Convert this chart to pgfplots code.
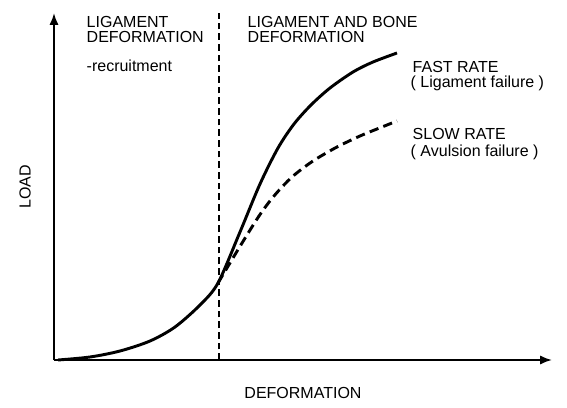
\documentclass[border=0pt]{standalone}
\usepackage{pgfplots}
\pgfplotsset{compat=1.18}
\usetikzlibrary{arrows.meta}
\usepackage{fontspec}
\setmainfont{Liberation Sans}
\begin{document}
\begin{tikzpicture}
  \begin{axis}[
    x=0.75pt, y=0.75pt,
    xmin=0, xmax=498, ymin=0, ymax=347,
    axis lines=left,
    axis line style={line width=1.5pt, -{Latex[length=9pt,width=7pt]}},
    ticks=none,
    clip=false,
    font=\fontsize{12}{14}\selectfont ]
  % solid: fast rate
  \addplot[black, line width=2.2pt, smooth] coordinates {
    (4,0) (36,3) (66,9) (96,19) (121,33) (146,55) (164,77) (186,128)
    (206,176) (224,212) (240,236) (257,255) (276,272) (299,288)
    (319,298) (343,307)};
  % dashed: slow rate
  \addplot[black, line width=2.2pt, smooth, dash pattern=on 7pt off 4pt] coordinates {
    (164,77) (185,112) (205,144) (220,164) (238,183) (259,199) (283,213)
    (306,224) (323,231) (343,239)};
  % boundary between regions
  \addplot[black, line width=1pt, dash pattern=on 5pt off 3pt] coordinates {(165,0) (165,347)};
  \path (axis cs:-54,360) rectangle (axis cs:513,-47);
  \node[anchor=base west] at (axis cs:28,332) {LIGAMENT};
  \node[anchor=base west] at (axis cs:28,317) {DEFORMATION};
  \node[anchor=base west] at (axis cs:28,288) {-recruitment};
  \node[anchor=base west] at (axis cs:189,332) {LIGAMENT AND BONE};
  \node[anchor=base west] at (axis cs:189,317) {DEFORMATION};
  \node[anchor=base west] at (axis cs:354,287) {FAST RATE};
  \node[anchor=base west] at (axis cs:352,272) {( Ligament failure )};
  \node[anchor=base west] at (axis cs:354,220) {SLOW RATE};
  \node[anchor=base west] at (axis cs:352,203) {( Avulsion failure )};
  \node[rotate=90] at (axis cs:-29,173) {LOAD};
  \node at (axis cs:249,-33) {DEFORMATION};
  \end{axis}
\end{tikzpicture}
\end{document}
